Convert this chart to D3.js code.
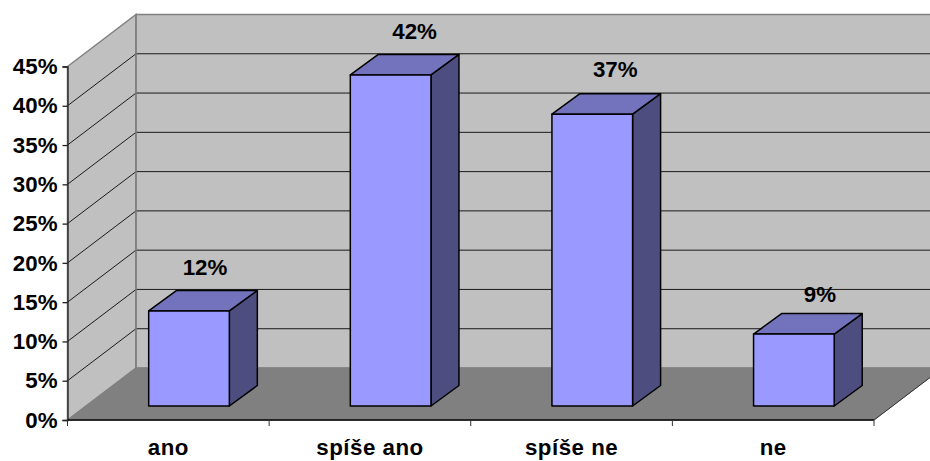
<!DOCTYPE html>
<html><head><meta charset="utf-8">
<script src="https://cdnjs.cloudflare.com/ajax/libs/d3/7.8.5/d3.min.js"></script>
<style>html,body{margin:0;padding:0;background:#fff}svg{display:block}
text{font-family:"Liberation Sans",Arial,sans-serif;font-weight:bold;fill:#000;font-size:22.3px}</style>
</head><body><svg id="c" width="930" height="461"></svg>
<script>
const categories = ["ano", "spíše ano", "spíše ne", "ne"];
const values = [12.1, 42.15, 37.15, 9.15];
const yTicks = [0, 5, 10, 15, 20, 25, 30, 35, 40, 45];

const labelFormat = v => Math.floor(v) + "%";
const svg = d3.select("#c");
const x = d3.scaleBand().domain(categories).range([67.5, 874]).paddingInner(0.6).paddingOuter(0.3);
const y = d3.scaleLinear().domain([0, 45]).range([420, 66.5]);
const wall = {dx: 68.5, dy: -52};
const bar = {dx: 28, dy: -20.5, shift: 20.7, lift: 14};
const labelNudge = [{x: 16, y: -36}, {x: 24, y: -36}, {x: 23, y: -37}, {x: 26, y: -32}];

const poly = pts => pts.map(p => p.join(",")).join(" ");
const x0 = 67.5, x1 = 874, yb = y(0), yt = y(45);

// side wall, back wall, floor
svg.append("polygon").attr("points", poly([[x0, yb], [x0 + wall.dx, yb + wall.dy], [x0 + wall.dx, yt + wall.dy], [x0, yt]]))
  .attr("fill", "#c0c0c0").attr("stroke", "#808080").attr("stroke-width", 1.5);
svg.append("polygon").attr("points", poly([[x0 + wall.dx, yb + wall.dy], [x1 + wall.dx, yb + wall.dy], [x1 + wall.dx, yt + wall.dy], [x0 + wall.dx, yt + wall.dy]]))
  .attr("fill", "#c0c0c0").attr("stroke", "#808080").attr("stroke-width", 1.5);
svg.append("polygon").attr("points", poly([[x0, yb], [x1, yb], [x1 + wall.dx, yb + wall.dy], [x0 + wall.dx, yb + wall.dy]]))
  .attr("fill", "#808080").attr("stroke", "#808080");
svg.append("line").attr("x1", x1).attr("y1", yb).attr("x2", x1 + wall.dx).attr("y2", yb + wall.dy).attr("stroke", "#333").attr("stroke-width", 1);

// gridlines
const grid = yTicks.filter(t => t > 0 && t < 45);
svg.append("g").selectAll("path").data(grid).join("path")
  .attr("d", t => `M${x0},${y(t)}L${x0 + wall.dx},${y(t) + wall.dy}L${x1 + wall.dx},${y(t) + wall.dy}`)
  .attr("fill", "none").attr("stroke", "#1a1a1a").attr("stroke-width", 1);
// left edge of the back wall drawn over gridlines
svg.append("line").attr("x1", x0 + wall.dx).attr("x2", x0 + wall.dx).attr("y1", yt + wall.dy).attr("y2", yb + wall.dy)
  .attr("stroke", "#808080").attr("stroke-width", 1.5);

// axes
const yAxis = d3.axisLeft(y).tickValues(yTicks).tickSize(5).tickPadding(5).tickFormat(d => d + "%");
const gy = svg.append("g").attr("transform", `translate(${x0},0)`).call(yAxis);
gy.select(".domain").attr("stroke", "#222").attr("stroke-width", 1.3);
gy.selectAll(".tick line").attr("stroke", "#222").attr("stroke-width", 1.3);

const xAxis = d3.axisBottom(x).tickSize(0).tickPadding(19);
const gx = svg.append("g").attr("transform", `translate(0,${yb})`).call(xAxis);
gx.select(".domain").attr("stroke", "#000").attr("stroke-width", 1.5).attr("d", `M${x0},0H${x1}`);
gx.selectAll("text").style("letter-spacing", "0.5px");
const step = x.step();
svg.append("g").selectAll("line").data(d3.range(categories.length + 1)).join("line")
  .attr("x1", i => x0 + i * step).attr("x2", i => x0 + i * step)
  .attr("y1", yb).attr("y2", yb + 6).attr("stroke", "#333").attr("stroke-width", 1);
gy.attr("font-family", null).attr("font-size", null);
gx.attr("font-family", null).attr("font-size", null);

// bars
const data = categories.map((c, i) => ({c, v: values[i], i}));
const g = svg.append("g").selectAll("g").data(data).join("g").attr("stroke", "#000").attr("stroke-width", 1.5).attr("stroke-linejoin", "round");
const L = d => x(d.c) + bar.shift, R = d => L(d) + x.bandwidth(), T = d => y(d.v) - bar.lift, B = () => y(0) - bar.lift;
g.append("polygon").attr("fill", "#4d4d80").attr("points", d => poly([[R(d), T(d)], [R(d) + bar.dx, T(d) + bar.dy], [R(d) + bar.dx, B() + bar.dy], [R(d), B()]]));
g.append("polygon").attr("fill", "#7373bd").attr("points", d => poly([[L(d), T(d)], [L(d) + bar.dx, T(d) + bar.dy], [R(d) + bar.dx, T(d) + bar.dy], [R(d), T(d)]]));
g.append("rect").attr("fill", "#9999ff").attr("x", L).attr("y", T).attr("width", x.bandwidth()).attr("height", d => B() - T(d));

// value labels
svg.append("g").selectAll("text").data(data).join("text")
  .attr("text-anchor", "middle")
  .attr("x", d => L(d) + x.bandwidth() / 2 + labelNudge[d.i].x)
  .attr("y", d => T(d) + labelNudge[d.i].y)
  .text(d => labelFormat(d.v));
</script></body></html>
